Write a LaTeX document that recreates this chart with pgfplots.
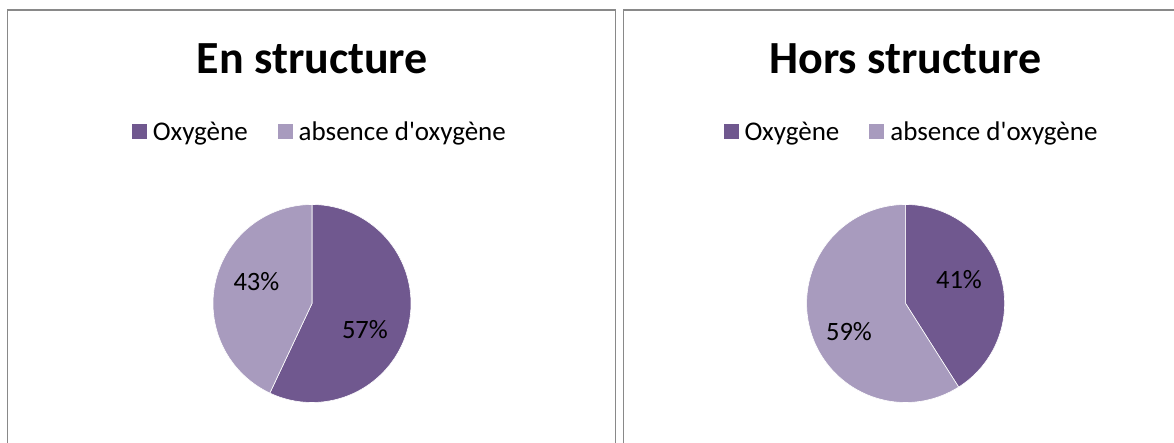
\documentclass[border=0pt]{standalone}
\usepackage{fontspec}
\setmainfont{Carlito}
\usepackage{pgfplots}
\usepackage{pgfplotstable}
\pgfplotsset{compat=1.18}

\definecolor{oxdark}{RGB}{112,88,143}
\definecolor{oxlight}{RGB}{168,155,190}
\definecolor{framegray}{RGB}{137,137,137}

% shares in percent, first slice starts at 12 o'clock, clockwise
\pgfplotstableread{
part value
oxy 57
abs 43
}\enstructure
\pgfplotstableread{
part value
oxy 41
abs 59
}\horsstructure

\pgfplotsset{
  pie/.style={
    scale only axis, width=198bp, height=198bp,
    axis lines=none, xmin=-1, xmax=1, ymin=-1, ymax=1,
    clip=false, samples=120,
    legend columns=2,
    legend image code/.code={\fill[##1,draw=none] (0bp,-7.5bp) rectangle (15bp,7.5bp);},
    legend style={draw=none, fill=none, inner sep=0pt, anchor=west,
      font=\fontsize{27bp}{30bp}\selectfont, nodes={inner sep=0pt},
      /tikz/every odd column/.append style={column sep=6bp},
      /tikz/every even column/.append style={column sep=30bp}},
  },
}
\tikzset{pct/.style={font=\fontsize{26.5bp}{30bp}\selectfont, inner sep=0pt}}

\begin{document}
\begin{tikzpicture}[x=1bp,y=1bp]
\useasboundingbox (0,0) rectangle (1174,443);
\clip (0,0) rectangle (1174,443);

% chart frames
\draw[framegray, line width=1.5bp] (7.5,-20) -- (7.5,433) -- (615.5,433) -- (615.5,-20);
\draw[framegray, line width=1.5bp] (623.5,-20) -- (623.5,433) -- (1200,433);

\node[font=\fontsize{46bp}{54bp}\selectfont\bfseries] at (312.3,384.7) {En structure};
\node[font=\fontsize{46bp}{54bp}\selectfont\bfseries] at (905.3,384.7) {Hors structure};

% pie centres
\coordinate (cA) at (312,139.5);
\coordinate (cB) at (905.6,139.5);

\pgfplotstablegetelem{0}{value}\of\enstructure
\pgfmathsetmacro\aA{90-3.6*\pgfplotsretval}
\pgfplotstablegetelem{0}{value}\of\horsstructure
\pgfmathsetmacro\aB{90-3.6*\pgfplotsretval}

\begin{axis}[pie, at={(cA)}, anchor=center,
  legend style={at={(-0.4106,1.3677)}}]
  \addplot[fill=oxdark, draw=white, line width=0.6bp, domain=\aA:90]
    ({cos(x)},{sin(x)}) -- (axis cs:0,0) -- cycle;
  \addlegendentry{Oxygène}
  \addplot[fill=oxlight, draw=white, line width=0.6bp, domain=-270:\aA]
    ({cos(x)},{sin(x)}) -- (axis cs:0,0) -- cycle;
  \addlegendentry{absence d\textquotesingle oxygène}
  \node[pct] at (axis cs:0.535,-0.263) {57\%};
  \node[pct] at (axis cs:-0.561,0.220) {43\%};
\end{axis}

\begin{axis}[pie, at={(cB)}, anchor=center,
  legend style={at={(-0.4207,1.3677)}}]
  \addplot[fill=oxdark, draw=white, line width=0.6bp, domain=\aB:90]
    ({cos(x)},{sin(x)}) -- (axis cs:0,0) -- cycle;
  \addlegendentry{Oxygène}
  \addplot[fill=oxlight, draw=white, line width=0.6bp, domain=-270:\aB]
    ({cos(x)},{sin(x)}) -- (axis cs:0,0) -- cycle;
  \addlegendentry{absence d\textquotesingle oxygène}
  \node[pct] at (axis cs:0.539,0.237) {41\%};
  \node[pct] at (axis cs:-0.572,-0.285) {59\%};
\end{axis}
\end{tikzpicture}
\end{document}
